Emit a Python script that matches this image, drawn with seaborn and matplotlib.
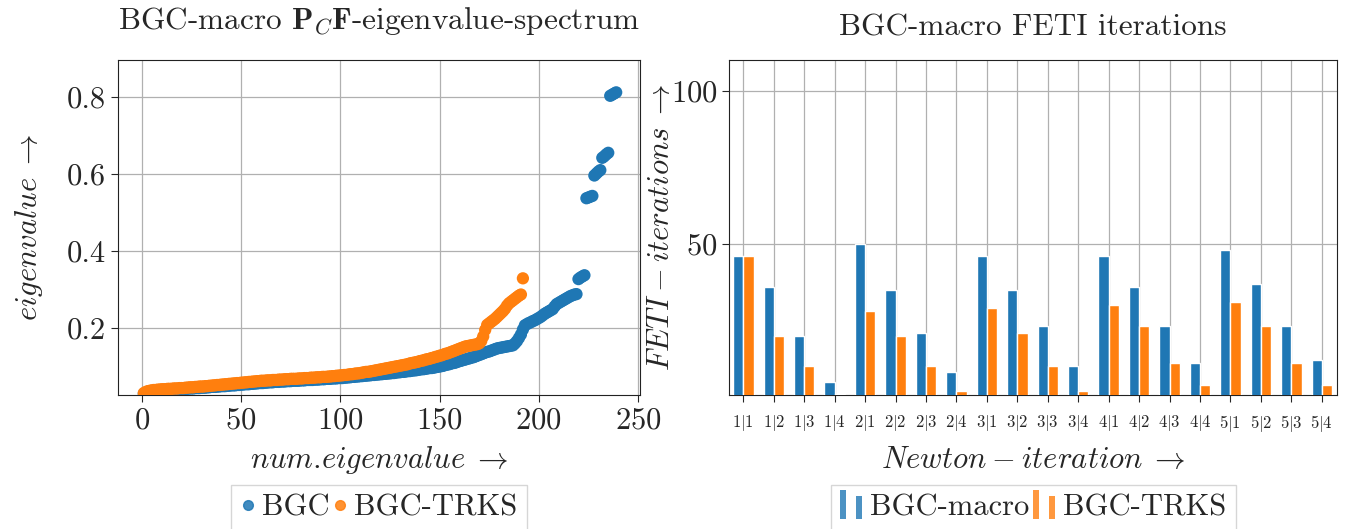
import numpy as np
import pandas as pd
import seaborn as sns
import matplotlib
matplotlib.use("Agg")
import matplotlib.pyplot as plt
from matplotlib.legend_handler import HandlerBase
from matplotlib.patches import Rectangle, Patch
from matplotlib.lines import Line2D

# ---------------- data ----------------
bgc_eigs = [
    0.029, 0.032, 0.034, 0.035, 0.036, 0.036, 0.037, 0.037, 0.038, 0.038,
    0.038, 0.039, 0.039, 0.039, 0.040, 0.040, 0.040, 0.041, 0.041, 0.041,
    0.042, 0.042, 0.042, 0.043, 0.043, 0.043, 0.044, 0.044, 0.044, 0.045,
    0.045, 0.045, 0.046, 0.046, 0.047, 0.047, 0.047, 0.048, 0.048, 0.049,
    0.049, 0.049, 0.050, 0.050, 0.051, 0.051, 0.051, 0.052, 0.052, 0.053,
    0.053, 0.054, 0.054, 0.054, 0.055, 0.055, 0.056, 0.056, 0.057, 0.057,
    0.057, 0.058, 0.058, 0.059, 0.059, 0.059, 0.060, 0.060, 0.060, 0.061,
    0.061, 0.061, 0.062, 0.062, 0.062, 0.063, 0.063, 0.063, 0.063, 0.064,
    0.064, 0.064, 0.065, 0.065, 0.065, 0.065, 0.066, 0.066, 0.066, 0.067,
    0.067, 0.067, 0.068, 0.068, 0.068, 0.069, 0.069, 0.069, 0.070, 0.070,
    0.070, 0.071, 0.071, 0.072, 0.072, 0.073, 0.073, 0.074, 0.074, 0.075,
    0.075, 0.076, 0.076, 0.077, 0.077, 0.078, 0.078, 0.079, 0.079, 0.080,
    0.080, 0.081, 0.081, 0.082, 0.082, 0.083, 0.083, 0.084, 0.085, 0.085,
    0.086, 0.086, 0.087, 0.088, 0.088, 0.089, 0.090, 0.090, 0.091, 0.092,
    0.093, 0.093, 0.094, 0.095, 0.096, 0.096, 0.097, 0.098, 0.099, 0.100,
    0.101, 0.102, 0.104, 0.105, 0.106, 0.108, 0.109, 0.110, 0.112, 0.114,
    0.115, 0.117, 0.118, 0.120, 0.121, 0.123, 0.124, 0.126, 0.128, 0.130,
    0.132, 0.134, 0.136, 0.138, 0.139, 0.141, 0.143, 0.145, 0.147, 0.148,
    0.149, 0.150, 0.151, 0.152, 0.153, 0.154, 0.155, 0.160, 0.166, 0.174,
    0.183, 0.196, 0.207, 0.210, 0.213, 0.215, 0.218, 0.220, 0.223, 0.226,
    0.229, 0.233, 0.237, 0.240, 0.243, 0.246, 0.249, 0.256, 0.262, 0.265,
    0.268, 0.271, 0.274, 0.277, 0.280, 0.283, 0.285, 0.287, 0.288, 0.327,
    0.331, 0.334, 0.337, 0.537, 0.539, 0.541, 0.543, 0.596, 0.601, 0.606,
    0.610, 0.642, 0.646, 0.651, 0.655, 0.803, 0.806, 0.809, 0.812,
]

trks_eigs = [
    0.031, 0.034, 0.036, 0.037, 0.038, 0.039, 0.039, 0.040, 0.040, 0.041,
    0.041, 0.041, 0.042, 0.042, 0.042, 0.043, 0.043, 0.043, 0.044, 0.044,
    0.044, 0.045, 0.045, 0.046, 0.046, 0.046, 0.047, 0.047, 0.048, 0.048,
    0.048, 0.049, 0.049, 0.050, 0.050, 0.051, 0.051, 0.052, 0.052, 0.053,
    0.053, 0.054, 0.054, 0.055, 0.055, 0.056, 0.056, 0.057, 0.057, 0.058,
    0.058, 0.059, 0.059, 0.060, 0.060, 0.061, 0.061, 0.062, 0.062, 0.063,
    0.063, 0.063, 0.064, 0.064, 0.064, 0.065, 0.065, 0.065, 0.066, 0.066,
    0.066, 0.067, 0.067, 0.067, 0.068, 0.068, 0.068, 0.068, 0.069, 0.069,
    0.069, 0.070, 0.070, 0.070, 0.071, 0.071, 0.071, 0.072, 0.072, 0.072,
    0.073, 0.073, 0.073, 0.074, 0.074, 0.075, 0.075, 0.076, 0.076, 0.077,
    0.077, 0.078, 0.078, 0.079, 0.080, 0.080, 0.081, 0.082, 0.082, 0.083,
    0.084, 0.085, 0.086, 0.086, 0.087, 0.088, 0.089, 0.090, 0.091, 0.092,
    0.093, 0.094, 0.095, 0.096, 0.097, 0.098, 0.099, 0.100, 0.101, 0.102,
    0.103, 0.104, 0.105, 0.106, 0.108, 0.109, 0.110, 0.111, 0.112, 0.114,
    0.115, 0.116, 0.118, 0.119, 0.120, 0.122, 0.123, 0.125, 0.126, 0.128,
    0.129, 0.131, 0.133, 0.134, 0.136, 0.138, 0.140, 0.142, 0.144, 0.146,
    0.148, 0.150, 0.152, 0.153, 0.154, 0.155, 0.156, 0.157, 0.158, 0.160,
    0.166, 0.178, 0.195, 0.208, 0.212, 0.216, 0.220, 0.224, 0.229, 0.234,
    0.239, 0.244, 0.250, 0.258, 0.264, 0.268, 0.272, 0.276, 0.280, 0.284,
    0.287, 0.329,
]

newton_labels = ["1|1", "1|2", "1|3", "1|4", "2|1", "2|2", "2|3", "2|4",
                 "3|1", "3|2", "3|3", "3|4", "4|1", "4|2", "4|3", "4|4",
                 "5|1", "5|2", "5|3", "5|4"]
feti_macro = [46, 36, 20, 5, 50, 35, 21, 8, 46, 35, 23, 10, 46, 36, 23, 11, 48, 37, 23, 12]
feti_trks = [46, 20, 10, 1, 28, 20, 10, 2, 29, 21, 10, 2, 30, 23, 11, 4, 31, 23, 11, 4]

scatter_names = ["BGC", "BGC-TRKS"]
bar_names = ["BGC-macro", "BGC-TRKS"]
BLUE = "#1f77b4"
ORANGE = "#ff7f0e"

# ---------------- style ----------------
sns.set_style("ticks")
plt.rcParams["font.family"] = ["serif"]
plt.rcParams["font.serif"] = ["cmr10", "DejaVu Serif"]
plt.rcParams["mathtext.fontset"] = "cm"
plt.rcParams["axes.formatter.use_mathtext"] = True
plt.rcParams["axes.unicode_minus"] = False

FS = 22
TFS = 22.5

fig = plt.figure(figsize=(13.46, 5.29), dpi=100)
W, H = 1346, 529
ax1 = fig.add_axes([118 / W, 1 - 395 / H, (640 - 118) / W, (395 - 60) / H])
ax2 = fig.add_axes([729 / W, 1 - 395 / H, (1337 - 729) / W, (395 - 60) / H])

# ---------------- scatter ----------------
df_s = pd.DataFrame({
    "num": list(range(1, len(bgc_eigs) + 1)) + list(range(1, len(trks_eigs) + 1)),
    "eig": bgc_eigs + trks_eigs,
    "method": [scatter_names[0]] * len(bgc_eigs) + [scatter_names[1]] * len(trks_eigs),
})
sns.scatterplot(data=df_s, x="num", y="eig", hue="method", palette=[BLUE, ORANGE],
                s=78, linewidth=0, legend=False, ax=ax1, zorder=3)
ax1.set_xlim(-12, 251)
ax1.set_ylim(0.026, 0.896)
ax1.set_xticks([0, 50, 100, 150, 200, 250])
ax1.set_yticks([0.2, 0.4, 0.6, 0.8])
ax1.set_yticklabels(["0.2", "0.4", "0.6", "0.8"])
ax1.grid(True, color="#b0b0b0", lw=0.9)
ax1.set_axisbelow(True)
ax1.tick_params(labelsize=FS, length=5, width=0.8)
ax1.set_xlabel(r"$num$.$eigenvalue\;\rightarrow$", fontsize=FS, labelpad=7)
ax1.set_ylabel(r"$eigenvalue\;\rightarrow$", fontsize=FS, labelpad=16)
ax1.set_title(r"BGC-macro $\mathbf{P}_C\mathbf{F}$-eigenvalue-spectrum", fontsize=TFS, pad=22)
for sp in ax1.spines.values():
    sp.set_linewidth(0.8)
    sp.set_color("#222222")

h_s = [Line2D([], [], ls="", marker="o", ms=7, color=BLUE, alpha=0.85),
       Line2D([], [], ls="", marker="o", ms=7, color=ORANGE, alpha=0.85)]
ax1.legend(h_s, scatter_names, loc="upper center", bbox_to_anchor=(0.5, -0.268),
           ncol=2, fontsize=FS, handlelength=0.5, handletextpad=0.2, columnspacing=0.1,
           frameon=True, fancybox=False, edgecolor="#cccccc", borderpad=0.3,
           borderaxespad=0)

# ---------------- bars ----------------
df_b = pd.DataFrame({
    "it": newton_labels * 2,
    "val": feti_macro + feti_trks,
    "method": [bar_names[0]] * len(newton_labels) + [bar_names[1]] * len(newton_labels),
})
sns.barplot(data=df_b, x="it", y="val", hue="method", palette=[BLUE, ORANGE],
            width=0.67, saturation=1, legend=False, ax=ax2, zorder=3)
ax2.set_xlim(-0.47, 19.5)
ax2.set_ylim(0.6, 110)
ax2.set_yticks([50, 100])
ax2.set_xticks(range(len(newton_labels)))
ax2.set_xticklabels([f"${l}$" for l in newton_labels], fontsize=12)
ax2.grid(True, color="#b0b0b0", lw=0.9)
ax2.set_axisbelow(True)
ax2.tick_params(axis="y", labelsize=FS, length=5, width=0.8)
ax2.tick_params(axis="x", length=5, width=0.8, pad=8)
ax2.set_xlabel(r"$Newton\:-\:iteration\;\rightarrow$", fontsize=FS, labelpad=9)
ax2.set_ylabel(r"$FETI\:-\:iterations\;\rightarrow$", fontsize=FS, labelpad=-3)
ax2.set_title("BGC-macro FETI iterations", fontsize=TFS, pad=18)
for sp in ax2.spines.values():
    sp.set_linewidth(0.8)
    sp.set_color("#222222")


class TwoBars(HandlerBase):
    def create_artists(self, legend, orig_handle, xdescent, ydescent, width, height,
                       fontsize, trans):
        c = orig_handle.get_facecolor()
        w = width * 0.27
        r1 = Rectangle((-xdescent, -ydescent - 0.15 * height), w, 1.35 * height,
                       facecolor=c, edgecolor="none", alpha=0.8, transform=trans)
        r2 = Rectangle((-xdescent + width * 0.7, -ydescent - 0.15 * height), w, 1.05 * height,
                       facecolor=c, edgecolor="none", alpha=0.8, transform=trans)
        return [r1, r2]


h_b = [Patch(facecolor=BLUE), Patch(facecolor=ORANGE)]
ax2.legend(h_b, bar_names, loc="upper center", bbox_to_anchor=(0.5, -0.268),
           ncol=2, fontsize=FS, handlelength=0.75, handletextpad=0.25, columnspacing=0.1,
           frameon=True, fancybox=False, edgecolor="#cccccc", borderpad=0.3,
           borderaxespad=0, handler_map={Patch: TwoBars()})

fig.savefig("out.png", dpi=100)
